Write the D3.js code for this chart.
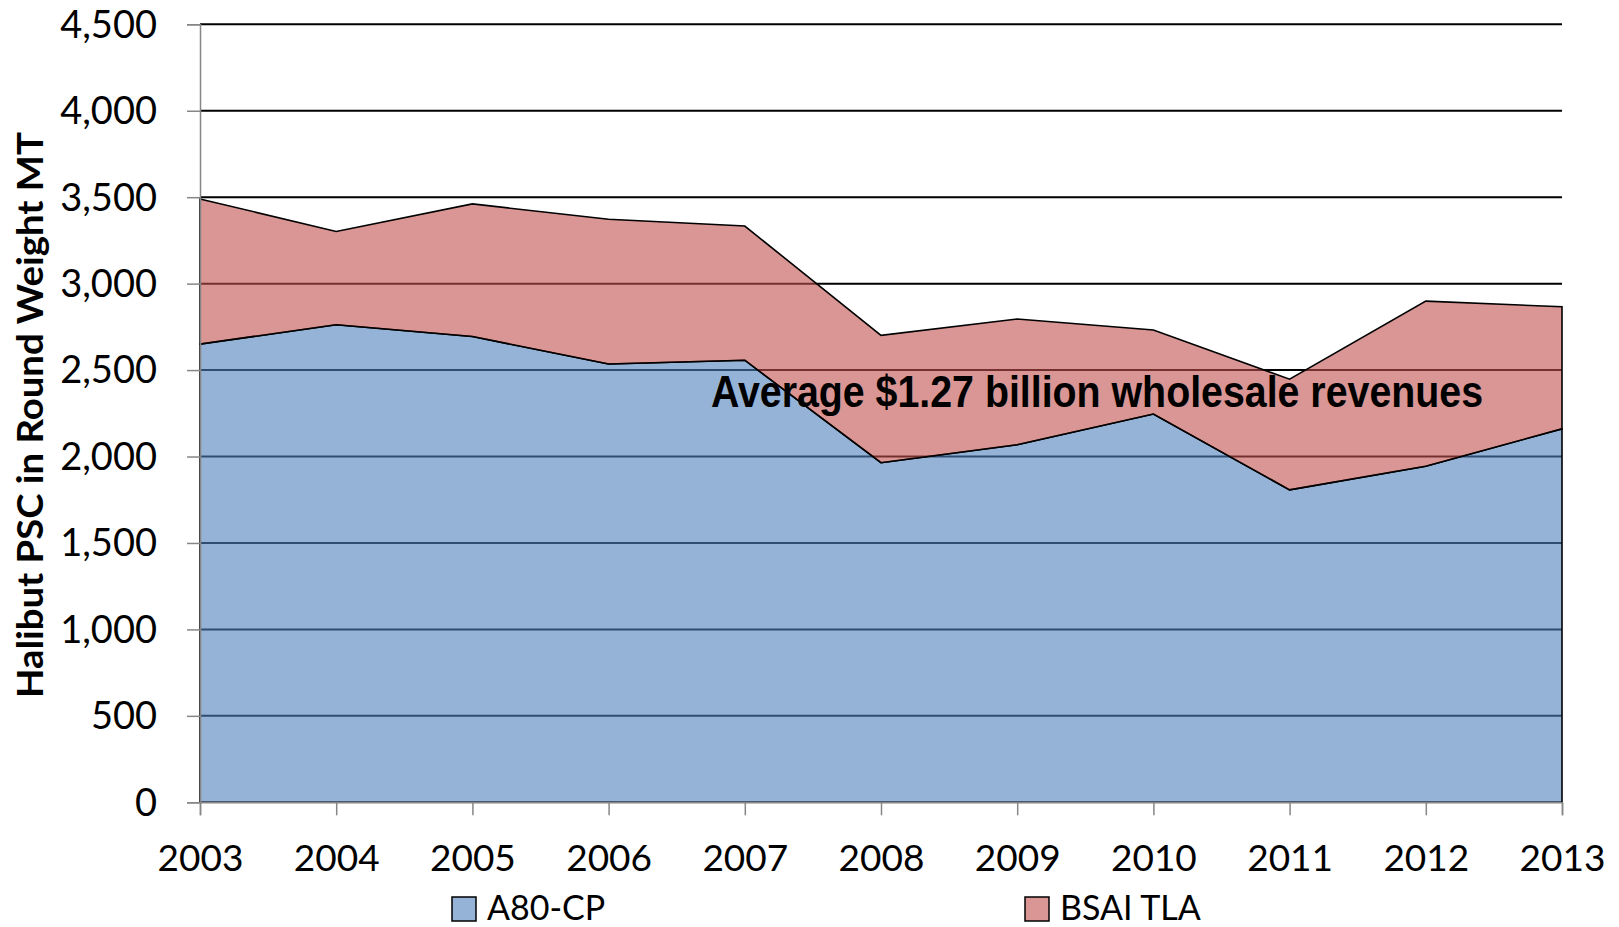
<!DOCTYPE html>
<html>
<head>
<meta charset="utf-8">
<script src="https://cdn.jsdelivr.net/npm/d3@7"></script>
<style>
  html, body { margin: 0; padding: 0; background: #ffffff; }
  svg { display: block; }
  .tick text { font-family: Lato, "Open Sans", sans-serif; fill: #000; }
</style>
</head>
<body>
<svg id="chart" width="1619" height="927"></svg>
<script>
// Halibut PSC (round weight, MT) by sector, stacked
const years = [2003, 2004, 2005, 2006, 2007, 2008, 2009, 2010, 2011, 2012, 2013];
const a80cp = [2650, 2762, 2694, 2535, 2557, 1964, 2068, 2246, 1807, 1944, 2160];
const bsaiTla = [840, 540, 767, 837, 776, 737, 727, 486, 640, 955, 706];
const seriesNames = ["A80-CP", "BSAI TLA"];
const seriesColors = ["#4F81BD", "#C0504D"];
const yTicks = [0, 500, 1000, 1500, 2000, 2500, 3000, 3500, 4000, 4500];
const yTitle = "Halibut PSC in Round Weight MT";
const note = "Average $1.27 billion wholesale revenues";

const svg = d3.select("#chart");
const plotLeft = 200, plotRight = 1562, plotTop = 24.3, plotBottom = 802.3;

const x = d3.scaleLinear().domain([years[0], years[years.length - 1]]).range([plotLeft, plotRight]);
const y = d3.scaleLinear().domain([0, 4500]).range([plotBottom, plotTop]);

const rows = years.map((yr, i) => ({ year: yr, "A80-CP": a80cp[i], "BSAI TLA": bsaiTla[i] }));
const stacked = d3.stack().keys(seriesNames)(rows);

// Horizontal gridlines sit beneath the translucent areas
svg.append("g")
  .selectAll("line")
  .data(yTicks.filter(v => v > 0))
  .join("line")
  .attr("x1", plotLeft).attr("x2", plotRight)
  .attr("y1", d => y(d)).attr("y2", d => y(d))
  .attr("stroke", "#000").attr("stroke-width", 2);

const area = d3.area()
  .x(d => x(d.data.year))
  .y0(d => y(d[0]))
  .y1(d => y(d[1]));

svg.append("g")
  .selectAll("path")
  .data(stacked)
  .join("path")
  .attr("d", d => area(d) + "Z")
  .attr("fill", (d, i) => seriesColors[i])
  .attr("fill-opacity", 0.6)
  .attr("stroke", "#000")
  .attr("stroke-width", 1.6)
  .attr("stroke-linejoin", "miter");

// Axes
const yAxis = d3.axisLeft(y).tickValues(yTicks).tickFormat(d3.format(",")).tickSize(13).tickPadding(30);
const gy = svg.append("g").attr("transform", `translate(${plotLeft},0)`).call(yAxis);
gy.select(".domain").attr("stroke", "#868686").attr("stroke-width", 1.5);
gy.selectAll(".tick line").attr("stroke", "#868686").attr("stroke-width", 1.5);
gy.selectAll(".tick text").attr("font-size", 38).attr("dy", "0.34em");

const xAxis = d3.axisBottom(x).tickValues(years).tickFormat(d3.format("d")).tickSize(13);
const gx = svg.append("g").attr("transform", `translate(0,${plotBottom})`).call(xAxis);
gx.select(".domain").attr("stroke", "#868686").attr("stroke-width", 1.5);
gx.selectAll(".tick line").attr("stroke", "#868686").attr("stroke-width", 1.5);
gx.selectAll(".tick text").attr("font-size", 37).attr("y", 69).attr("dy", 0);

// Axis title
svg.append("text")
  .attr("transform", `translate(43,415) rotate(-90)`)
  .attr("text-anchor", "middle")
  .attr("font-family", "Lato, 'Open Sans', sans-serif")
  .attr("font-weight", "bold")
  .attr("font-size", 36)
  .attr("textLength", 566)
  .attr("lengthAdjust", "spacingAndGlyphs")
  .text(yTitle);

// Revenue note
svg.append("text")
  .attr("x", 711).attr("y", 407)
  .attr("font-family", "'Liberation Sans Narrow', 'Arial Narrow', 'Liberation Sans', sans-serif")
  .attr("font-weight", "bold")
  .attr("font-size", 45)
  .attr("textLength", 772)
  .attr("lengthAdjust", "spacingAndGlyphs")
  .text(note);

// Legend
const legendX = [452, 1025];
const legend = svg.append("g")
  .selectAll("g")
  .data(seriesNames)
  .join("g")
  .attr("transform", (d, i) => `translate(${legendX[i]},897)`);
legend.append("rect")
  .attr("width", 24).attr("height", 24)
  .attr("fill", (d, i) => seriesColors[i])
  .attr("fill-opacity", 0.6)
  .attr("stroke", "#000").attr("stroke-width", 1.5);
legend.append("text")
  .attr("x", 35).attr("y", 23)
  .attr("font-family", "Lato, 'Open Sans', sans-serif")
  .attr("font-size", 34)
  .text(d => d);
</script>
</body>
</html>
